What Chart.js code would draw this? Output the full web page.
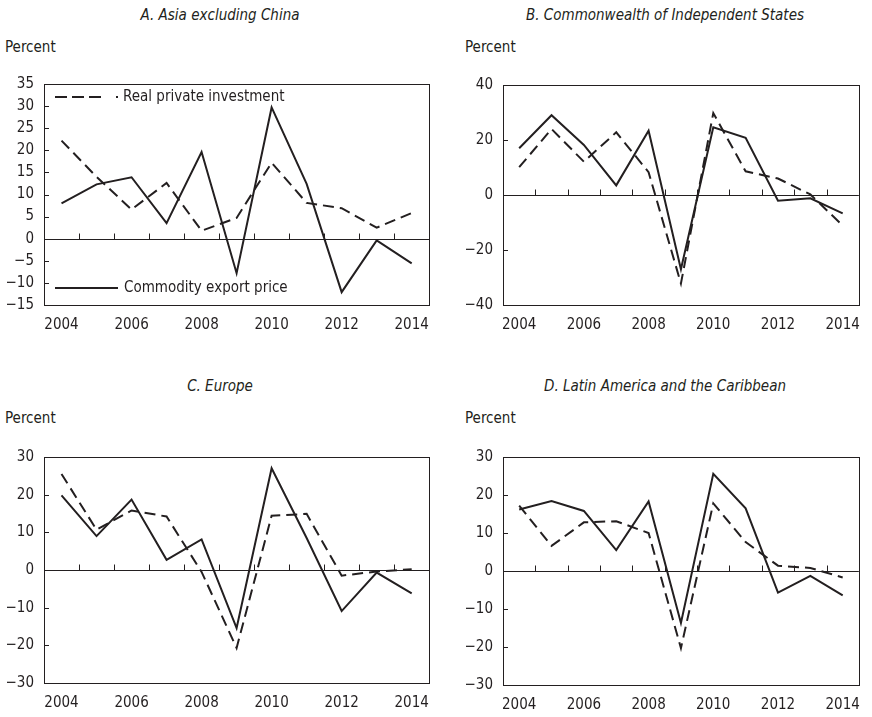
<!DOCTYPE html>
<html>
<head>
<meta charset="utf-8">
<script src="https://cdn.jsdelivr.net/npm/chart.js@4.4.1/dist/chart.umd.min.js"></script>
<style>
  body { margin: 0; width: 872px; height: 717px; overflow: hidden; background: #fff; position: relative; }
  .t { position: absolute; font-family: 'DejaVu Sans Condensed', 'Liberation Sans Narrow', sans-serif; color: #231f20; white-space: nowrap; }
  .title { font-style: italic; font-size: 15px; transform: translate(-50%, -50%); }
  .unit { font-size: 15px; transform: translateY(-50%); }
  canvas { position: absolute; }
</style>
</head>
<body>
<div class="t title" style="left:220px;top:15px">A. Asia excluding China</div>
<div class="t title" style="left:665px;top:15px">B. Commonwealth of Independent States</div>
<div class="t title" style="left:220px;top:386px">C. Europe</div>
<div class="t title" style="left:665px;top:386px">D. Latin America and the Caribbean</div>
<div class="t unit" style="left:5px;top:47px">Percent</div>
<div class="t unit" style="left:465px;top:47px">Percent</div>
<div class="t unit" style="left:5px;top:418px">Percent</div>
<div class="t unit" style="left:465px;top:418px">Percent</div>

<canvas id="chartA"></canvas>
<canvas id="chartB"></canvas>
<canvas id="chartC"></canvas>
<canvas id="chartD"></canvas>

<script>
const years = ["2004","2005","2006","2007","2008","2009","2010","2011","2012","2013","2014"];

// commodity export price (solid) / real private investment (dashed)
const asiaPrice   = [8, 12.3, 13.9, 3.5, 19.6, -7.8, 29.7, 12.4, -12.1, -0.4, -5.6];
const asiaInvest  = [22.2, 14, 6.6, 12.6, 1.8, 4.7, 17.2, 8.1, 6.9, 2.5, 5.8];
const cisPrice    = [17, 29, 18.2, 3.5, 23.4, -27, 24.6, 20.8, -2.1, -1.2, -6.7];
const cisInvest   = [10.1, 24, 12.1, 22.8, 8.3, -32.2, 29.8, 8.6, 6, 0.2, -11.1];
const euroPrice   = [19.8, 9, 18.7, 2.7, 8.1, -15.4, 27, 8.5, -10.9, -0.7, -6.2];
const euroInvest  = [25.5, 10.7, 15.8, 14.2, -0.5, -20.7, 14.4, 14.9, -1.5, -0.4, 0.2];
const latamPrice  = [16.2, 18.4, 15.8, 5.5, 18.3, -13.7, 25.6, 16.5, -5.7, -1.3, -6.4];
const latamInvest = [17.2, 6.6, 12.8, 13.1, 10, -20.3, 17.8, 7.6, 1.4, 0.8, -1.7];

// y axis: min, max, step
const asiaTicks  = [-15, 35, 5];
const cisTicks   = [-40, 40, 20];
const euroTicks  = [-30, 30, 10];
const latamTicks = [-30, 30, 10];

const seriesNames = ["Commodity export price", "Real private investment"];

const INK = "#231f20";
const FONT = "'DejaVu Sans Condensed', 'Liberation Sans Narrow', sans-serif";

const framePlugin = {
  id: "frame",
  beforeDatasetsDraw(chart) {
    const { ctx, chartArea: a, scales: { x, y } } = chart;
    const y0 = Math.round(y.getPixelForValue(0)) + 0.5;
    ctx.save();
    ctx.strokeStyle = INK;
    ctx.lineWidth = 1;
    ctx.beginPath();
    ctx.moveTo(a.left, y0);
    ctx.lineTo(a.right, y0);
    for (let i = 0; i < years.length - 1; i++) {
      const px = Math.round((x.getPixelForValue(i) + x.getPixelForValue(i + 1)) / 2) + 0.5;
      ctx.moveTo(px, y0);
      ctx.lineTo(px, y0 - 6);
    }
    y.ticks.forEach(t => {
      const py = Math.round(y.getPixelForValue(t.value)) + 0.5;
      ctx.moveTo(a.left, py);
      ctx.lineTo(a.left + 5, py);
    });
    ctx.stroke();
    ctx.restore();
  },
  afterDatasetsDraw(chart, args, opts) {
    const { ctx, chartArea: a } = chart;
    ctx.save();
    ctx.strokeStyle = INK;
    ctx.lineWidth = 1;
    ctx.strokeRect(Math.round(a.left) + 0.5, Math.round(a.top) + 0.5, Math.round(a.width), Math.round(a.height));
    if (opts.legend) {
      ctx.lineWidth = 2;
      ctx.fillStyle = INK;
      ctx.font = "15px " + FONT;
      ctx.textBaseline = "middle";
      // dashed sample
      let ly = a.top + 13;
      ctx.setLineDash([12, 5]);
      ctx.beginPath();
      ctx.moveTo(a.left + 11, ly);
      ctx.lineTo(a.left + 62, ly);
      ctx.stroke();
      ctx.setLineDash([]);
      ctx.fillRect(a.left + 72, ly - 1, 2, 2);
      ctx.fillText(seriesNames[1], a.left + 79, ly);
      // solid sample
      ly = a.bottom - 17;
      ctx.beginPath();
      ctx.moveTo(a.left + 11, ly);
      ctx.lineTo(a.left + 74, ly);
      ctx.stroke();
      ctx.fillText(seriesNames[0], a.left + 80, ly);
    }
    ctx.restore();
  }
};

function makeChart(id, area, panelX, price, invest, tick, legend) {
  const [l, t, r, b] = area;
  const canvasTop = t - 10;
  const canvasH = b - t + 10 + 34;
  const canvasW = r + 3 - panelX;
  const el = document.getElementById(id);
  el.style.left = panelX + "px";
  el.style.top = canvasTop + "px";
  el.style.width = canvasW + "px";
  el.style.height = canvasH + "px";

  return new Chart(el, {
    type: "line",
    data: {
      labels: years,
      datasets: [
        { label: seriesNames[0], data: price, borderColor: INK, borderWidth: 2, pointRadius: 0, tension: 0 },
        { label: seriesNames[1], data: invest, borderColor: INK, borderWidth: 2, borderDash: [11, 6], pointRadius: 0, tension: 0 }
      ]
    },
    options: {
      responsive: false,
      animation: false,
      layout: { padding: { top: 10, right: 3, left: 0, bottom: 0 } },
      plugins: { legend: { display: false }, tooltip: { enabled: false }, frame: { legend } },
      scales: {
        x: {
          offset: true,
          grid: { display: false, drawTicks: false },
          border: { display: false },
          afterFit: s => { s.height = 34; },
          ticks: {
            autoSkip: false, maxRotation: 0, padding: 11,
            color: INK, font: { family: FONT, size: 15 },
            callback: (v, i) => (i % 2 === 0 ? years[i] : "")
          }
        },
        y: {
          min: tick[0], max: tick[1],
          grid: { display: false, drawTicks: false },
          border: { display: false },
          afterFit: s => { s.width = l - panelX; },
          ticks: {
            stepSize: tick[2], padding: 10, autoSkip: false,
            color: INK, font: { family: FONT, size: 15 },
            callback: v => (v < 0 ? "\u2212" + Math.abs(v) : String(v))
          }
        }
      }
    },
    plugins: [framePlugin]
  });
}

makeChart("chartA", [44, 75, 437, 305], 0, asiaPrice, asiaInvest, asiaTicks, true);
makeChart("chartB", [503, 76, 868, 305], 436, cisPrice, cisInvest, cisTicks, false);
makeChart("chartC", [44, 448, 437, 683], 0, euroPrice, euroInvest, euroTicks, false);
makeChart("chartD", [503, 448, 868, 685], 436, latamPrice, latamInvest, latamTicks, false);
</script>
</body>
</html>
